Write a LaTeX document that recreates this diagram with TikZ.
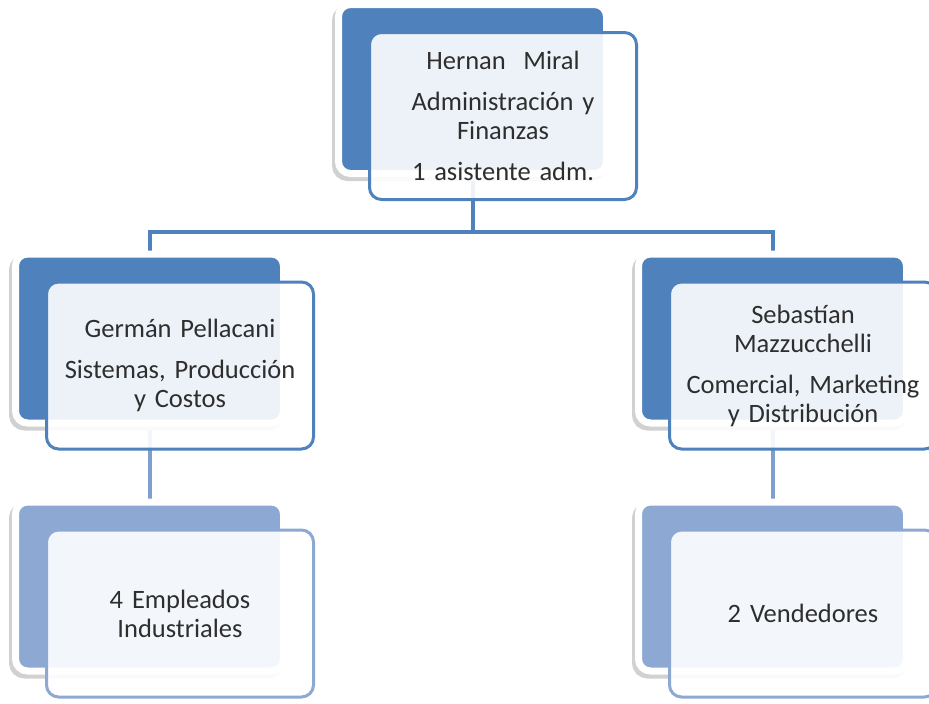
\documentclass[tikz,border=0pt]{standalone}
\usepackage{fontspec}
\setmainfont{Carlito}
\usetikzlibrary{positioning,backgrounds}
\definecolor{accent}{HTML}{4F81BD}
\definecolor{pale}{HTML}{8DA9D3}
\definecolor{linklow}{HTML}{7F9FCF}
\definecolor{ink}{HTML}{2E2E2E}

\begin{document}
\begin{tikzpicture}[
  x=1pt, y=1pt,
  font=\fontsize{26.5}{29}\selectfont, text=ink,
  back/.style={draw=white, line width=7pt, fill=#1, rounded corners=12pt,
               minimum width=268pt, minimum height=169pt, outer sep=0pt,
               preaction={fill=black!18, draw=black!18,
                          transform canvas={xshift=-3pt, yshift=-4pt}}},
  back/.default=accent,
  card/.style={draw=#1, line width=3pt, fill=white, fill opacity=.9, text opacity=1,
               rounded corners=12pt, align=center, text width=258pt, inner sep=0pt,
               minimum width=267pt, minimum height=167pt, outer sep=0pt},
  card/.default=accent,
  link/.style={draw=accent, line width=4pt}
]
\useasboundingbox (0,0) rectangle (929,-704);

% Level 1 -- management
\node[back] (hernanB) at (472.5,-89) {};
\node[card, below right=28pt and 31pt of hernanB.north west] (hernan)
  {Hernan~ Miral\\[12pt]Administración y\\Finanzas\\[12pt]1 asistente adm.};

% Level 2 -- the two areas
\node[back] (pellB) at (149.5,-338.5) {};
\node[card, below right=28pt and 31pt of pellB.north west] (pell)
  {Germán Pellacani\\[12pt]Sistemas, Producción\\y Costos};
\node[back] (sebaB) at (772.5,-338.5) {};
\node[card, below right=28pt and 31pt of sebaB.north west] (seba)
  {Sebastían\\Mazzucchelli\\[12pt]Comercial, Marketing\\y Distribución};

% Level 3 -- staff
\node[back=pale] (emplB) at (149.5,-586.5) {};
\node[card=pale, below right=28pt and 31pt of emplB.north west] (empl)
  {4 Empleados\\Industriales};
\node[back=pale] (vendB) at (772.5,-586.5) {};
\node[card=pale, below right=28pt and 31pt of vendB.north west] (vend)
  {2 Vendedores};

\begin{scope}[on background layer]
\draw[link] (hernanB.south) -- ++(0,-58.5) -| (pellB.north);
\draw[link] (hernanB.south) -- ++(0,-58.5) -| (sebaB.north);
\draw[link, draw=linklow] (pellB.south) -- (emplB.north);
\draw[link, draw=linklow] (sebaB.south) -- (vendB.north);
\end{scope}

\end{tikzpicture}
\end{document}
